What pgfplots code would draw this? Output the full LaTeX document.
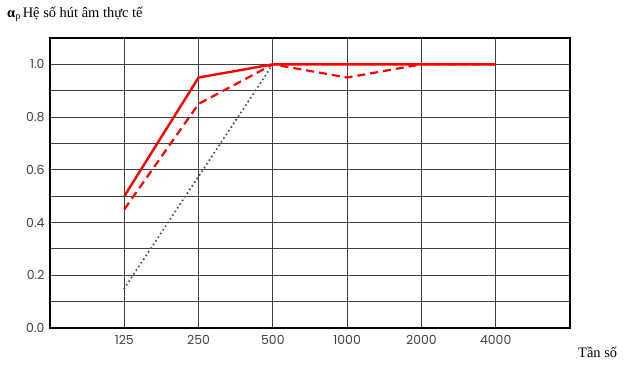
\documentclass[border=0pt]{standalone}
\usepackage{pgfplots}
\pgfplotsset{compat=1.18}
\usepackage{fontspec}
\setmainfont{Liberation Serif}
\newfontfamily\tickfont{Poppins}
\begin{document}
\begin{tikzpicture}
\useasboundingbox (-50bp,-38bp) rectangle (579bp,328bp);
\begin{axis}[
  at={(0,0)}, anchor=south west,
  scale only axis, width=520bp, height=290bp,
  xmin=-1, xmax=6, ymin=0, ymax=1.1,
  xtick={0,1,2,3,4,5},
  xticklabels={125,250,500,1000,2000,4000},
  ytick={0,0.2,0.4,0.6,0.8,1.0},
  yticklabels={0.0,0.2,0.4,0.6,0.8,1.0},
  minor ytick={0.1,0.3,0.5,0.7,0.9},
  grid=both,
  major grid style={draw=black!75, line width=1bp},
  minor grid style={draw=black!75, line width=1bp},
  axis line style={black, line width=1.8bp},
  tick style={draw=none},
  ticklabel style={font=\tickfont\fontsize{12.5}{14}\selectfont, text=black!75},
  xticklabel style={yshift=-4bp},
  yticklabel style={xshift=-2bp},
  clip=false,
]
\addplot[draw=black!70, line width=2.3bp, line cap=round, dash pattern=on 0bp off 4.4bp] coordinates {(0,0.15) (1,0.575) (2,1.0)};
\addplot[draw=red, line width=2.2bp, dash pattern=on 8bp off 5bp] coordinates {(0,0.45) (1,0.85) (2,1.0) (3,0.95) (4,1.0) (5,1.0)};
\addplot[draw=red, line width=2.4bp] coordinates {(0,0.5) (1,0.95) (2,1.0) (3,1.0) (4,1.0) (5,1.0)};
\end{axis}
\node[anchor=west, inner sep=0pt] at (-43bp,314bp) {\fontsize{14.5}{16}\selectfont \textbf{α}\textsubscript{p}\kern2bp Hệ số hút âm thực tế};
\node[anchor=west, inner sep=0pt] at (528bp,-24bp) {\fontsize{14.5}{16}\selectfont Tần số};
\end{tikzpicture}
\end{document}
